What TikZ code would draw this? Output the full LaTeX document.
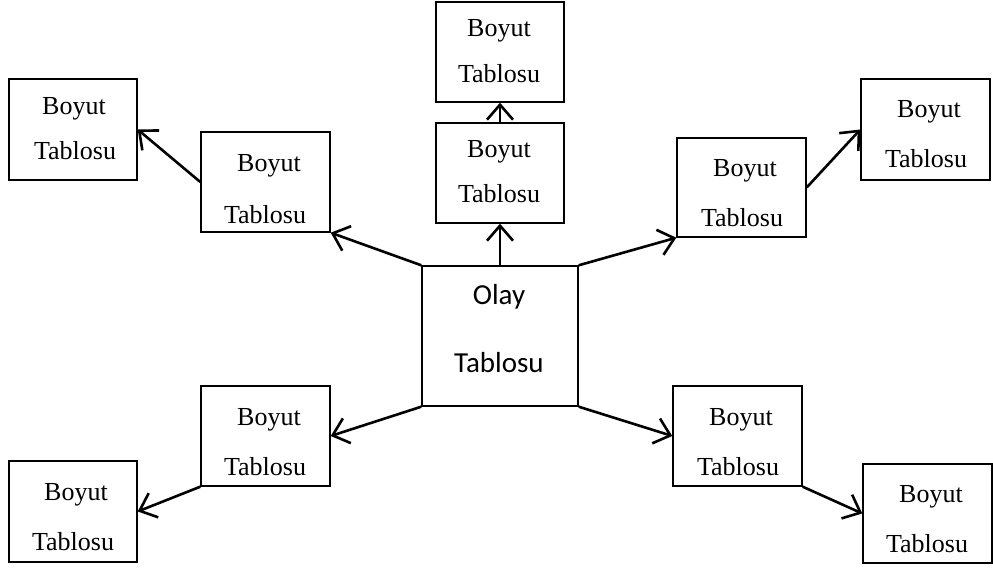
\documentclass[tikz,border=0pt]{standalone}
\usepackage{fontspec}
\setmainfont{Liberation Serif}
\newfontfamily\calfont{Carlito}
\usetikzlibrary{arrows.meta}
\begin{document}
\begin{tikzpicture}[x=1pt,y=-1pt,
  bbox/.style={draw=black,line width=1.4pt,minimum width=128pt,minimum height=100pt,inner sep=0pt},
  btxt/.style={anchor=base,inner sep=0pt,font=\fontsize{26}{30}\selectfont},
  ctxt/.style={anchor=base,inner sep=0pt,font=\calfont\fontsize{29}{34}\selectfont},
  conn/.style={draw=black,line width=2.6pt,-{Straight Barb[length=15pt,width=26pt,line width=2.6pt]}}]
\useasboundingbox (0,0) rectangle (993,569);
% boxes
\node[bbox,minimum width=156pt,minimum height=140pt] (C) at (500,336) {};
\node[bbox] (T1) at (500,52) {};
\node[bbox] (T2) at (500,173) {};
\node[bbox,minimum width=129pt] (LU) at (265.5,182) {};
\node[bbox,minimum height=101pt] (FLU) at (73,129.5) {};
\node[bbox,minimum width=129pt,minimum height=99pt] (RU) at (741.5,187.5) {};
\node[bbox,minimum width=129pt,minimum height=101pt] (FRU) at (925.5,129.5) {};
\node[bbox,minimum width=129pt] (LL) at (265.5,436) {};
\node[bbox,minimum height=101pt] (FLL) at (73,511.5) {};
\node[bbox,minimum width=129pt] (RL) at (737.5,436) {};
\node[bbox,minimum width=129pt,minimum height=99pt] (FRL) at (927.5,513.5) {};
% texts
\node[ctxt] (Ca) at (499,305) {Olay};
\node[ctxt] (Cb) at (499,372) {Tablosu};
\node[btxt] (T1a) at (499,37) {Boyut};
\node[btxt] (T1b) at (499,83) {Tablosu};
\node[btxt] (T2a) at (499,158) {Boyut};
\node[btxt] (T2b) at (499,203) {Tablosu};
\node[btxt] (LUa) at (269,172) {Boyut};
\node[btxt] (LUb) at (265,224) {Tablosu};
\node[btxt] (FLUa) at (74,115) {Boyut};
\node[btxt] (FLUb) at (75,160) {Tablosu};
\node[btxt] (RUa) at (745,177) {Boyut};
\node[btxt] (RUb) at (742,227) {Tablosu};
\node[btxt] (FRUa) at (929,118) {Boyut};
\node[btxt] (FRUb) at (926,168) {Tablosu};
\node[btxt] (LLa) at (269,425) {Boyut};
\node[btxt] (LLb) at (265,475) {Tablosu};
\node[btxt] (FLLa) at (76,500) {Boyut};
\node[btxt] (FLLb) at (73,550) {Tablosu};
\node[btxt] (RLa) at (741,425) {Boyut};
\node[btxt] (RLb) at (738,475) {Tablosu};
\node[btxt] (FRLa) at (931,502) {Boyut};
\node[btxt] (FRLb) at (927,552) {Tablosu};
% connectors
\draw[conn] (C.north) -- (T2.south);
\draw[conn] (T2.north) -- (T1.south);
\draw[conn] (C.north west) -- (LU.south east);
\draw[conn] (LU.west) -- (FLU.east);
\draw[conn] (C.north east) -- (RU.south west);
\draw[conn] (RU.east) -- (FRU.west);
\draw[conn] (C.south west) -- (LL.east);
\draw[conn] (LL.south west) -- (FLL.east);
\draw[conn] (C.south east) -- (RL.west);
\draw[conn] (RL.south east) -- (FRL.west);
\end{tikzpicture}
\end{document}
